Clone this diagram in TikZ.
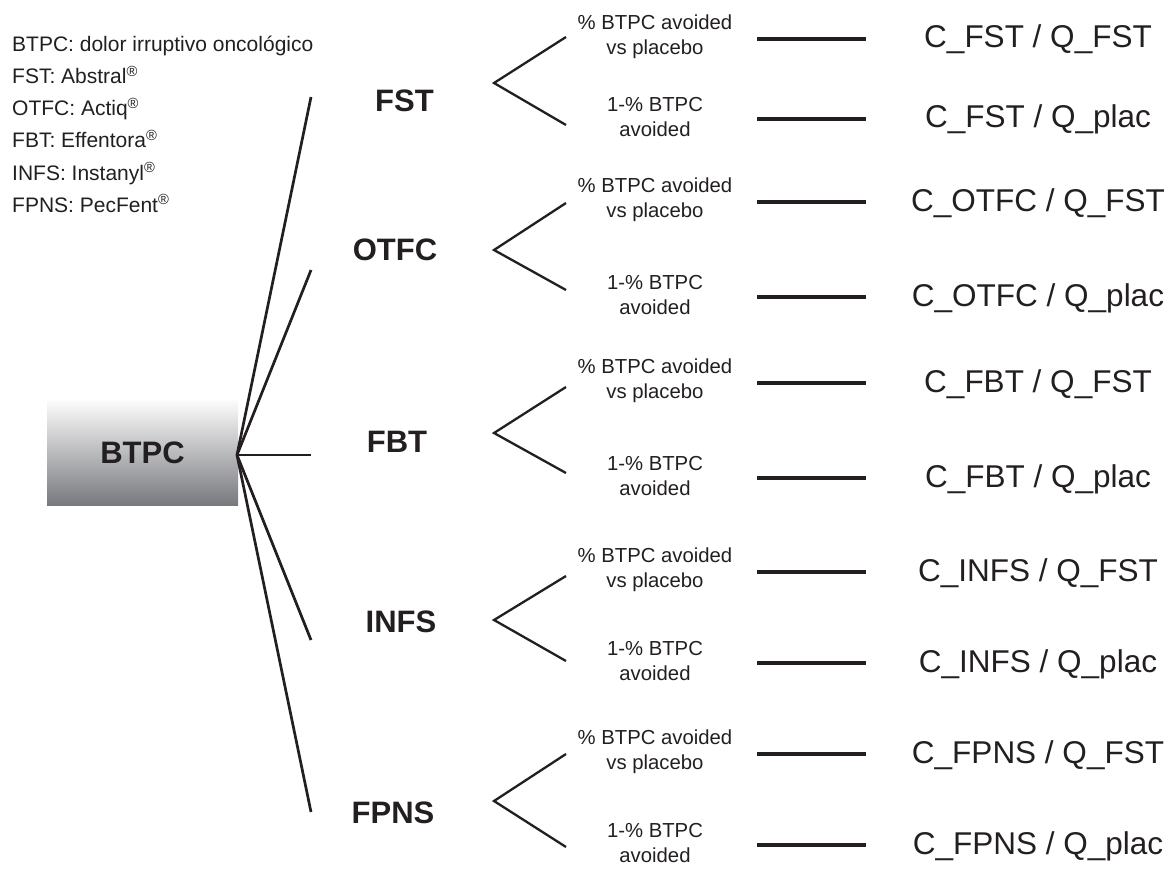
\documentclass[tikz,border=0pt]{standalone}
\usepackage{fontspec}
\setmainfont{Liberation Sans}
\definecolor{ink}{HTML}{231F20}
\definecolor{gtop}{RGB}{252,252,252}
\definecolor{gbot}{RGB}{120,121,126}
\begin{document}
\begin{tikzpicture}[x=1pt,y=-1pt,
  every node/.style={text=ink, inner sep=0pt},
  legend/.style={anchor=base west, font=\fontsize{21}{25}\selectfont},
  rootbox/.style={minimum width=191pt, minimum height=105pt, shading=axis, top color=gtop, bottom color=gbot, font=\fontsize{31}{37}\selectfont\bfseries},
  drug/.style={anchor=base, font=\fontsize{31}{37}\selectfont\bfseries},
  prob/.style={align=center, font=\fontsize{20.3}{25}\selectfont},
  result/.style={anchor=base, font=\fontsize{31.5}{37}\selectfont},
  fanline/.style={draw=ink, line width=2.7pt},
  chev/.style={draw=ink, line width=2.3pt, line join=miter},
  payline/.style={draw=ink, line width=3.5pt}
]
\useasboundingbox (0,0) rectangle (1170,872);
% legend
\node[legend] (l1) at (12,52) {BTPC: dolor irruptivo oncológico};
\node[legend] (l2) at (12,84) {FST: Abstral\textsuperscript{®}};
\node[legend] (l3) at (12,116) {OTFC: Actiq\textsuperscript{®}};
\node[legend] (l4) at (12,148) {FBT: Effentora\textsuperscript{®}};
\node[legend] (l5) at (12,180) {INFS: Instanyl\textsuperscript{®}};
\node[legend] (l6) at (12,212) {FPNS: PecFent\textsuperscript{®}};
% root
\node[rootbox] (btpc) at (142.5,452.5) {BTPC};
\coordinate (root) at (237,455);
\foreach \n/\ey/\lx/\ly/\ap/\te/\be/\tl/\bl in {
  FST/97/404.5/112/83/37/125/39/119,
  OTFC/270/395/260/250/203/290/202/297,
  FBT/455/397/452/433/387/473/383/478,
  INFS/640/401/632/620/576/661/572/663,
  FPNS/812/393/823/801/754/847/754/845}{
  \coordinate (\n-end) at (311,\ey);
  \draw[fanline] (root) -- (\n-end);
  \node[drug] (\n-lab) at (\lx,\ly) {\n};
  \coordinate (\n-apex) at (494,\ap);
  \coordinate (\n-te) at (566,\te);
  \coordinate (\n-be) at (566,\be);
  \draw[chev] (\n-te) -- (\n-apex) -- (\n-be);
  \node[prob] (\n-pa) at (655,\tl-2) {\% BTPC avoided\\vs placebo};
  \node[prob] (\n-pb) at (655,\bl-2) {1-\% BTPC\\avoided};
  \coordinate (\n-t1) at (757,\tl);
  \coordinate (\n-t2) at (866,\tl);
  \coordinate (\n-b1) at (757,\bl);
  \coordinate (\n-b2) at (866,\bl);
  \draw[payline] (\n-t1) -- (\n-t2);
  \draw[payline] (\n-b1) -- (\n-b2);
  \node[result] (\n-ra) at (1038,\tl+9) {C\_\n\ / Q\_FST};
  \node[result] (\n-rb) at (1038,\bl+9) {C\_\n\ / Q\_plac};
}
\end{tikzpicture}
\end{document}
